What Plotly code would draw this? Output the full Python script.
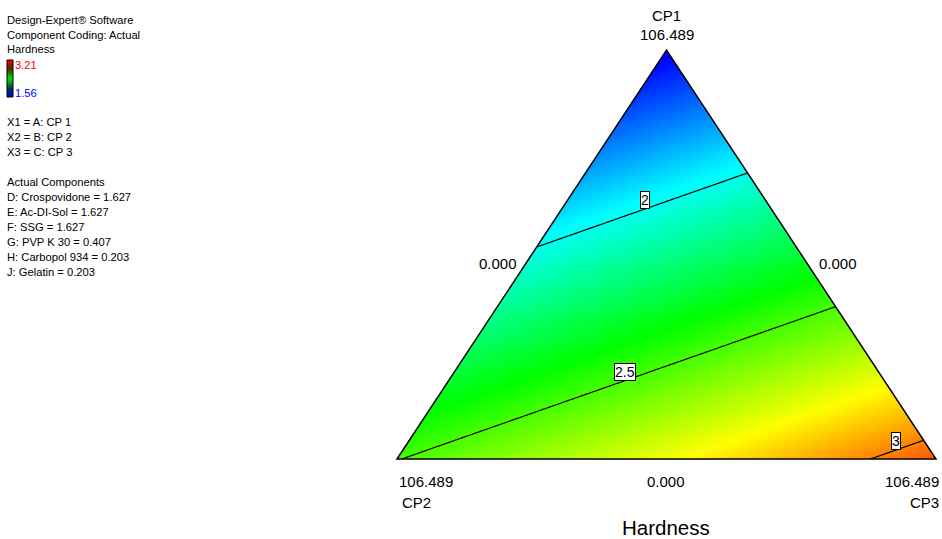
import numpy as np
import plotly.graph_objects as go

W, H = 942, 539

# ---- data -------------------------------------------------------------
component_names = ["CP1", "CP2", "CP3"]
component_max = "106.489"
component_min = "0.000"
# fitted hardness at the pure-blend vertices (CP1, CP2, CP3)
vertex_hardness = [1.54, 2.495, 3.07]
contour_levels = [2.0, 2.5, 3.0]
contour_labels = ["2", "2.5", "3"]
hardness_low, hardness_high = 1.56, 3.21
response_name = "Hardness"

header_lines = ["Design-Expert\u00ae Software", "Component Coding: Actual", "Hardness"]
factor_lines = ["X1 = A: CP 1", "X2 = B: CP 2", "X3 = C: CP 3"]
actual_lines = [
    "Actual Components",
    "D: Crospovidone = 1.627",
    "E: Ac-DI-Sol = 1.627",
    "F: SSG = 1.627",
    "G: PVP K 30 = 0.407",
    "H: Carbopol 934 = 0.203",
    "J: Gelatin = 0.203",
]

# ---- layout geometry (pixels) ----------------------------------------
TOP, LEFT, RIGHT = (666, 50), (397, 459), (936, 459)
PAD = 0.01
wx = RIGHT[0] - LEFT[0]
hy = LEFT[1] - TOP[1]
x_dom = [(LEFT[0] - PAD * wx) / W, (RIGHT[0] + PAD * wx) / W]
y_dom = [1 - (LEFT[1] + PAD * hy) / H, 1 - (TOP[1] - PAD * hy) / H]

FONT = "Liberation Sans, Arial, sans-serif"

# Design-Expert style response colour ramp
ramp = [[0.0, "#0000ff"], [0.25, "#00ffff"], [0.5, "#00ff00"],
        [0.75, "#ffff00"], [1.0, "#ff0000"]]
legend_ramp = [[0.0, "#0000ff"], [0.22, "#00304a"], [0.5, "#00e000"],
               [0.78, "#4a2a00"], [1.0, "#ff0000"]]

# ---- response surface on the simplex ----------------------------------
n = 321
xs = np.linspace(0, 1, n)
ys = np.linspace(0, 1, n)
X, Y = np.meshgrid(xs, ys)
A = Y                 # CP1 share (top vertex)
C = X - Y / 2         # CP3 share (right vertex)
B = 1 - A - C         # CP2 share (left vertex)
a, b, c = vertex_hardness
Z = a * A + b * B + c * C

fig = go.Figure()
fig.add_trace(go.Heatmap(x=xs, y=ys, z=Z, colorscale=ramp,
                         zmin=hardness_low, zmax=hardness_high,
                         zsmooth="best", showscale=False, hoverinfo="skip"))
fig.add_trace(go.Contour(x=xs, y=ys, z=Z, autocontour=False,
                         contours=dict(start=contour_levels[0], end=contour_levels[-1],
                                       size=contour_levels[1] - contour_levels[0],
                                       coloring="none"),
                         line=dict(color="black", width=1.2),
                         showscale=False, hoverinfo="skip"))

# small legend colour bar
lev = np.linspace(hardness_low, hardness_high, 60)
fig.add_trace(go.Heatmap(x=[0, 1], y=lev, z=np.column_stack([lev, lev]),
                         colorscale=legend_ramp, zmin=hardness_low, zmax=hardness_high,
                         zsmooth="best", showscale=False, hoverinfo="skip",
                         xaxis="x2", yaxis="y2"))

shapes = []
m = 0.03
# white masks outside the simplex
shapes.append(dict(type="path", xref="x", yref="y", layer="above",
                   path=f"M {-m},{-m} L 0,0 L 0.5,1 L 0.5,{1+m} L {-m},{1+m} Z",
                   fillcolor="white", line=dict(width=0)))
shapes.append(dict(type="path", xref="x", yref="y", layer="above",
                   path=f"M {1+m},{-m} L 1,0 L 0.5,1 L 0.5,{1+m} L {1+m},{1+m} Z",
                   fillcolor="white", line=dict(width=0)))
shapes.append(dict(type="rect", xref="x", yref="y", layer="above",
                   x0=-m, x1=1 + m, y0=-m, y1=0,
                   fillcolor="white", line=dict(width=0)))
# simplex outline
shapes.append(dict(type="path", xref="x", yref="y", layer="above",
                   path="M 0,0 L 0.5,1 L 1,0 Z",
                   line=dict(color="black", width=1.5)))
# legend bar outline
shapes.append(dict(type="rect", xref="paper", yref="paper", layer="above",
                   x0=7 / W, x1=13 / W, y0=1 - 97 / H, y1=1 - 60 / H,
                   line=dict(color="black", width=1)))

annotations = []


def note(text, px, py, size=11.2, color="black", xanchor="left", **kw):
    annotations.append(dict(text=text, x=px / W, y=1 - py / H, xref="paper", yref="paper",
                            xanchor=xanchor, yanchor="middle", showarrow=False,
                            font=dict(family=FONT, size=size, color=color), **kw))


# left information panel
for i, t in enumerate(header_lines):
    note(t, 5, 20 + 14.5 * i)
note(f"{hardness_high:.2f}", 13, 64.5, color="#ff0000")
note(f"{hardness_low:.2f}", 13, 93, color="#0000ff")
for i, t in enumerate(factor_lines):
    note(t, 5, 122 + 15 * i)
for i, t in enumerate(actual_lines):
    note(t, 5, 182 + 15 * i)

# vertex and edge labels
note(component_names[0], 666, 16, size=15, xanchor="center")
note(component_max, 667, 34.5, size=15, xanchor="center")
note(component_max, 397, 481, size=15, xanchor="left")
note(component_names[1], 400, 502, size=15, xanchor="left")
note(component_max, 941, 481, size=15, xanchor="right")
note(component_names[2], 941, 502, size=15, xanchor="right")
note(component_min, 498, 263, size=15, xanchor="center")
note(component_min, 838, 263, size=15, xanchor="center")
note(component_min, 666, 481, size=15, xanchor="center")
note(response_name, 666, 527, size=20.5, xanchor="center")

# contour labels, placed on their contour lines
label_x = [0.4601, 0.423, 0.9258]
slope_x = c - b
slope_y = a - (b + c) / 2
for lvl, txt, lx in zip(contour_levels, contour_labels, label_x):
    ly = (lvl - b - slope_x * lx) / slope_y
    annotations.append(dict(text=txt, x=lx, y=ly, xref="x", yref="y",
                            xanchor="center", yanchor="middle", yshift=9,
                            showarrow=False, bgcolor="white",
                            bordercolor="black", borderwidth=1, borderpad=0,
                            font=dict(family=FONT, size=14, color="black")))

fig.update_layout(
    width=W, height=H,
    margin=dict(l=0, r=0, t=0, b=0),
    paper_bgcolor="white", plot_bgcolor="white",
    showlegend=False,
    xaxis=dict(domain=x_dom, range=[-PAD, 1 + PAD], visible=False, fixedrange=True),
    yaxis=dict(domain=y_dom, range=[-PAD, 1 + PAD], visible=False, fixedrange=True),
    xaxis2=dict(domain=[7 / W, 13 / W], range=[0, 1], visible=False, anchor="y2"),
    yaxis2=dict(domain=[1 - 97 / H, 1 - 60 / H], range=[hardness_low, hardness_high],
                visible=False, anchor="x2"),
    shapes=shapes,
    annotations=annotations,
)

fig.write_html("out.html")
